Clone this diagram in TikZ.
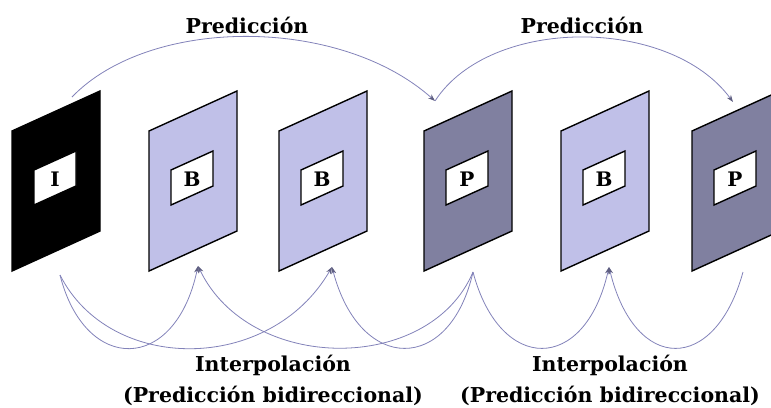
\documentclass[tikz,border=0pt]{standalone}
\usepackage{fontspec}
\setmainfont{DejaVu Serif}
\usepackage{tikz}
\usetikzlibrary{arrows.meta}
\definecolor{bframe}{RGB}{192,192,232}
\definecolor{pframe}{RGB}{128,128,160}
\definecolor{arrowc}{RGB}{130,130,185}
\definecolor{tipc}{RGB}{95,95,130}
\tikzset{
  frame/.style={draw=black, line width=1.4pt},
  conn/.style={draw=arrowc, line width=0.8pt, -{Stealth[length=7pt,width=5pt,color=tipc]}},
  letter/.style={font=\bfseries\fontsize{20}{22}\selectfont, inner sep=0pt},
  lbl/.style={font=\bfseries\fontsize{20.5}{31}\selectfont, align=center, inner sep=0pt}
}

\begin{document}
\begin{tikzpicture}[
    x=1pt,
    y=-1pt
]
  \useasboundingbox (0,0) rectangle (771,407);
  \clip (0,0) rectangle (771,407);
  % frames
  \foreach \L/\c/\t/\n in {12/black/I/1, 149/bframe/B/2, 279/bframe/B/3, 424/pframe/P/4, 561/bframe/B/5, 692/pframe/P/6}{
    \draw[frame, fill=\c] (\L,131) -- (\L+88,91) -- (\L+88,231) -- (\L,271) -- cycle;
    \draw[frame, fill=white] (\L+22,170) -- (\L+64,151) -- (\L+64,186) -- (\L+22,205) -- cycle;
    \node[letter] (f\n) at (\L+43,179) {\t};
  }
  % ends of the connectors
  \coordinate (I-top) at (72,97);
  \coordinate (P4-top) at (435,101);
  \coordinate (P6-top) at (733,102);
  \coordinate (I-bot) at (60,275);
  \coordinate (B2-bot) at (198,266);
  \coordinate (B3-bot) at (332,267);
  \coordinate (P4-bot) at (473,272);
  \coordinate (B5-bot) at (609,267);
  \coordinate (P6-bot) at (743,272);
  % prediction
  \draw[conn] (I-top) .. controls (150,16) and (340,16) .. (P4-top);
  \draw[conn] (P4-top) .. controls (490,16) and (670,16) .. (P6-top);
  \node[lbl] (pred1) at (247,25) {Predicción};
  \node[lbl] (pred2) at (582,25) {Predicción};
  % interpolation
  \draw[conn] (I-bot) .. controls (85,374) and (175,374) .. (B2-bot);
  \draw[conn] (I-bot) .. controls (110,374) and (270,374) .. (B3-bot);
  \draw[conn] (P4-bot) .. controls (430,374) and (250,374) .. (B2-bot);
  \draw[conn] (P4-bot) .. controls (450,374) and (360,374) .. (B3-bot);
  \draw[conn] (P4-bot) .. controls (500,374) and (585,374) .. (B5-bot);
  \draw[conn] (P6-bot) .. controls (715,374) and (635,374) .. (B5-bot);
  \node[lbl] (interp1) at (273,380) {Interpolación\\(Predicción bidireccional)};
  \node[lbl] (interp2) at (610,380) {Interpolación\\(Predicción bidireccional)};
\end{tikzpicture}
\end{document}
